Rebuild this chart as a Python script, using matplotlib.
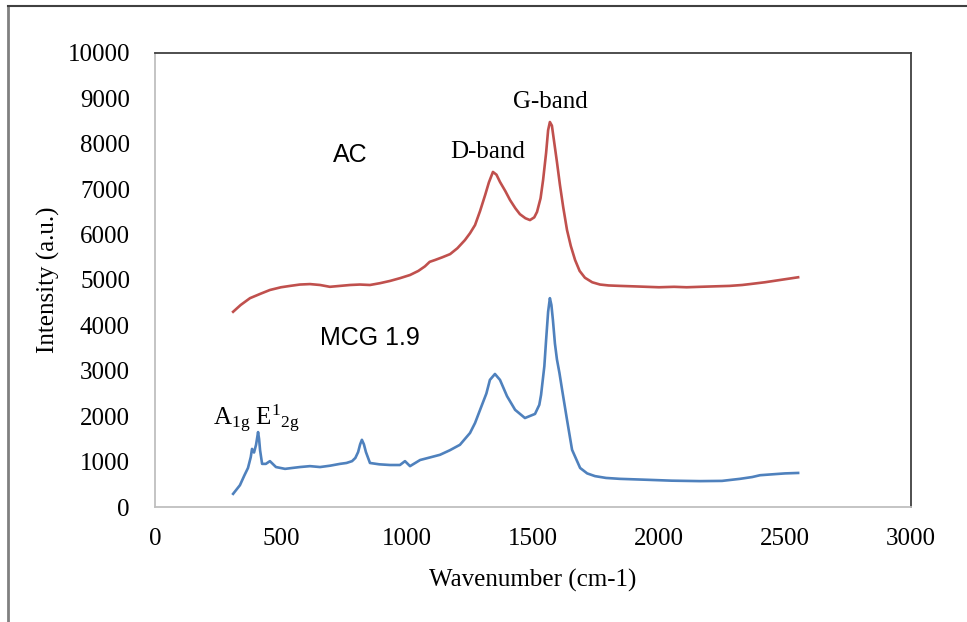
import numpy as np
import matplotlib.pyplot as plt
from matplotlib.lines import Line2D

plt.rcParams['font.family'] = ['Liberation Serif', 'DejaVu Serif']
plt.rcParams['mathtext.fontset'] = 'custom'
plt.rcParams['mathtext.rm'] = 'Liberation Serif'
plt.rcParams['mathtext.it'] = 'Liberation Serif:italic'

# Raman spectrum, activated carbon (AC)
wn_ac = [310, 340, 377, 420, 456, 500, 536, 575, 615, 655, 694, 734, 774, 813,
         853, 893, 933, 972, 1012, 1045, 1071, 1090, 1111, 1140, 1171, 1200, 1230,
         1250, 1270, 1290, 1310, 1325, 1341, 1355, 1369, 1390, 1409, 1430, 1448,
         1470, 1488, 1505, 1516, 1530, 1540, 1552, 1560, 1567, 1575, 1583, 1595,
         1607, 1620, 1635, 1650, 1667, 1685, 1706, 1735, 1766, 1800, 1845, 1900,
         1950, 2000, 2060, 2110, 2163, 2220, 2280, 2330, 2361, 2420, 2480, 2552]
int_ac = [4300, 4450, 4600, 4700, 4780, 4840, 4870, 4900, 4910, 4890, 4850, 4870,
          4890, 4900, 4890, 4930, 4980, 5040, 5110, 5200, 5300, 5400, 5440, 5500,
          5570, 5700, 5880, 6030, 6210, 6520, 6870, 7150, 7380, 7320, 7160, 6960,
          6760, 6580, 6450, 6360, 6320, 6380, 6500, 6800, 7200, 7800, 8300, 8480,
          8400, 8080, 7600, 7090, 6600, 6100, 5750, 5440, 5200, 5050, 4950, 4900,
          4880, 4870, 4860, 4850, 4840, 4850, 4840, 4850, 4860, 4870, 4890, 4910,
          4950, 5000, 5060]

# Raman spectrum, MCG 1.9
wn_mcg = [310, 337, 355, 369, 380, 385, 393, 401, 409, 413, 417, 425, 440, 456,
          480, 516, 545, 575, 615, 655, 695, 734, 760, 782, 795, 806, 814, 821,
          829, 837, 853, 890, 933, 972, 992, 1012, 1052, 1090, 1131, 1170, 1210,
          1250, 1270, 1290, 1315, 1329, 1349, 1369, 1397, 1429, 1468, 1508, 1525, 1532,
          1545, 1552, 1560, 1567, 1573, 1579, 1587, 1595, 1605, 1615, 1635, 1655,
          1687, 1715, 1746, 1790, 1845, 1950, 2050, 2163, 2250, 2321, 2370, 2401,
          2450, 2500, 2552]
int_mcg = [290, 480, 700, 860, 1100, 1280, 1200, 1370, 1650, 1500, 1250, 950, 950,
           1010, 880, 840, 860, 880, 900, 880, 910, 950, 970, 1010, 1080, 1210,
           1380, 1480, 1380, 1210, 970, 940, 925, 925, 1010, 900, 1035, 1090, 1150,
           1250, 1370, 1630, 1850, 2140, 2500, 2800, 2930, 2800, 2440, 2140, 1960, 2050,
           2250, 2470, 3100, 3680, 4300, 4600, 4450, 4120, 3600, 3250, 2950, 2600,
           1920, 1260, 860, 740, 680, 640, 620, 600, 580, 570, 575, 620, 660, 700,
           720, 740, 750]

x_ticks = [0, 500, 1000, 1500, 2000, 2500, 3000]
y_ticks = [0, 1000, 2000, 3000, 4000, 5000, 6000, 7000, 8000, 9000, 10000]

fig = plt.figure(figsize=(9.67, 6.22), dpi=100)
ax = fig.add_axes([155 / 967, 1 - 507 / 622, 756 / 967, 454 / 622])

ax.plot(wn_ac, int_ac, color='#C0504D', lw=1.9)
ax.plot(wn_mcg, int_mcg, color='#4F81BD', lw=1.9)

ax.set_xlim(0, 3000)
ax.set_ylim(0, 10000)
ax.set_xticks(x_ticks)
ax.set_yticks(y_ticks)
ax.tick_params(length=0, labelsize=18)
ax.tick_params(axis='x', pad=15)
ax.tick_params(axis='y', pad=18)

ax.spines['left'].set_color('#bfbfbf')
ax.spines['bottom'].set_color('#bfbfbf')
ax.spines['top'].set_color('#404040')
ax.spines['right'].set_color('#404040')
for s in ax.spines.values():
    s.set_linewidth(1.3)

ax.set_xlabel('Wavenumber (cm-1)', fontsize=18)
ax.set_ylabel('Intensity (a.u.)', fontsize=18)
ax.xaxis.set_label_coords(0.5, -0.136)
ax.yaxis.set_label_coords(-0.1257, 0.5)

# peak labels
ax.text(1321, 7819, 'D-band', fontsize=18, ha='center', va='center')
ax.text(1567, 8921, 'G-band', fontsize=18, ha='center', va='center')
ax.text(230, 1950, r'A$_{\mathrm{1g}}$ E$^{\mathrm{1}}$$_{\mathrm{2g}}$', fontsize=18,
        ha='left', va='center')
ax.text(774, 7753, 'AC', fontsize=18, family='Liberation Sans', ha='center', va='center')
ax.text(853, 3722, 'MCG 1.9', fontsize=18, family='Liberation Sans', ha='center', va='center')

# outer frame
fig.add_artist(Line2D([8 / 967, 8 / 967], [0, 1 - 6 / 622], color='#808080', lw=2))
fig.add_artist(Line2D([8 / 967, 1], [1 - 6 / 622, 1 - 6 / 622], color='#404040', lw=1.5))

fig.savefig('out.png', dpi=100)
